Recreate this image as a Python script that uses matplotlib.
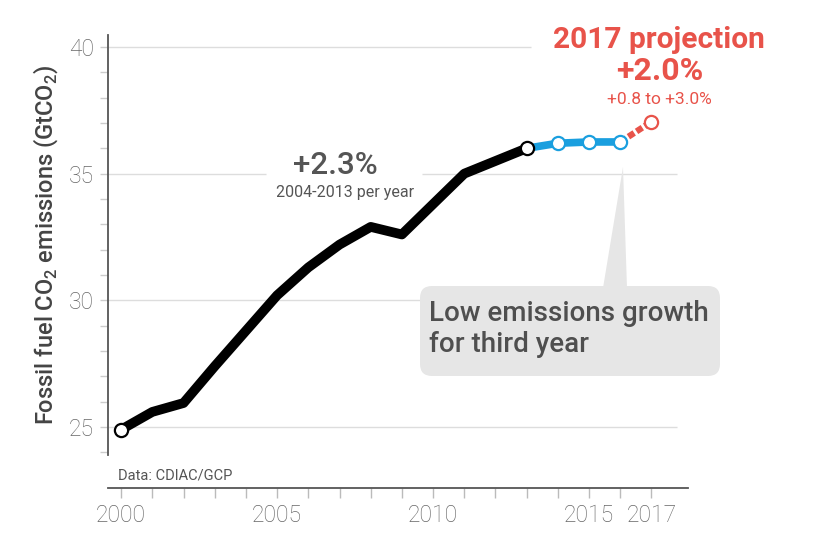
import matplotlib
matplotlib.use("Agg")
import matplotlib.pyplot as plt
from matplotlib.patches import FancyBboxPatch, Polygon
from matplotlib.transforms import IdentityTransform

# data (GtCO2)
years_hist = [2000, 2001, 2002, 2003, 2004, 2005, 2006, 2007, 2008, 2009, 2010, 2011, 2012, 2013]
emis_hist = [24.9, 25.6, 25.95, 27.4, 28.8, 30.2, 31.3, 32.2, 32.9, 32.6, 33.8, 35.0, 35.5, 36.0]
years_flat = [2013, 2014, 2015, 2016]
emis_flat = [36.0, 36.2, 36.25, 36.25]
years_proj = [2016, 2017]
emis_proj = [36.25, 37.05]

x_ticks = [2000, 2005, 2010, 2015, 2017]
y_ticks = [25, 30, 35, 40]

W, H = 826, 542
BLACK = "#000000"
BLUE = "#1a9fdf"
RED = "#e8534a"
GREY_TXT = "#555555"
TICK_TXT = "#666666"

plt.rcParams["font.family"] = ["Roboto", "DejaVu Sans"]
plt.rcParams["mathtext.fontset"] = "custom"
plt.rcParams["mathtext.rm"] = "Roboto:medium"

fig = plt.figure(figsize=(W / 100, H / 100), dpi=100)
ax = fig.add_axes([108 / W, 1 - 455 / H, (688 - 108) / W, (455 - 35) / H])
ax.set_xlim(1999.58, 2018.17)
ax.set_ylim(23.9, 40.47)


def px(x, y):
    # figure pixel -> figure fraction
    return x / W, 1 - y / H


# gridlines (broken where text sits)
grid_kw = dict(color="#dddddd", lw=1, zorder=0)
ax.hlines(40, 1999.58, 2013.15, **grid_kw)
ax.hlines(35, 1999.58, 2004.66, **grid_kw)
ax.hlines(35, 2009.65, 2017.83, **grid_kw)
ax.hlines([30, 25], 1999.58, 2017.83, **grid_kw)

# spines
for s in ["top", "right"]:
    ax.spines[s].set_visible(False)
ax.spines["left"].set_color("#555555")
ax.spines["left"].set_linewidth(1.3)
ax.spines["bottom"].set_color("#555555")
ax.spines["bottom"].set_linewidth(1.3)
ax.spines["bottom"].set_position(("outward", 24))

ax.set_yticks(y_ticks)
ax.set_yticks(range(24, 41), minor=True)
ax.set_xticks(x_ticks)
ax.set_xticks(range(2000, 2018), minor=True)
ax.tick_params(axis="y", which="both", length=6, width=1, color="#cccccc",
               labelsize=16.5, labelcolor=TICK_TXT, pad=4)
ax.tick_params(axis="x", which="both", length=7, width=1, color="#bbbbbb",
               labelsize=16.5, labelcolor=TICK_TXT, pad=4)
for lab in ax.get_xticklabels() + ax.get_yticklabels():
    lab.set_fontweight("light")

ax.set_ylabel(r"Fossil fuel CO$_\mathregular{2}$ emissions (GtCO$_\mathregular{2}$)",
              fontsize=17, color="#444444", fontweight="medium")
ax.yaxis.set_label_coords(-0.083, 0.5)

# annotation box with pointer
box = FancyBboxPatch((420, H - 376), 300, 90, boxstyle="round,pad=0,rounding_size=12",
                     transform=IdentityTransform(), facecolor="#e6e6e6", edgecolor="none",
                     zorder=1)
fig.add_artist(box)
wedge = Polygon([(603, H - 288), (627, H - 288), (623, H - 167)], closed=True,
                transform=IdentityTransform(), facecolor="#e6e6e6", edgecolor="none", zorder=1)
fig.add_artist(wedge)
fig.text(*px(429, 329), "Low emissions growth\nfor third year", fontsize=20,
         color="#4f4f4f", fontweight="medium", ha="left", va="center", linespacing=1.2,
         zorder=2)

# lines
ax.plot(years_hist, emis_hist, color=BLACK, lw=7, solid_capstyle="round",
        solid_joinstyle="round", zorder=3)
ax.plot(years_flat, emis_flat, color=BLUE, lw=5.5, solid_joinstyle="round", zorder=3)
ax.plot(years_proj, emis_proj, color=RED, lw=4.5, dashes=(1.1, 0.45), zorder=2)

ms = 9.5
ax.plot([years_hist[0], years_hist[-1]], [emis_hist[0], emis_hist[-1]], "o", ms=ms,
        mfc="white", mec=BLACK, mew=1.6, zorder=4)
ax.plot(years_flat[1:], emis_flat[1:], "o", ms=ms, mfc="white", mec=BLUE, mew=1.6, zorder=4)
ax.plot(years_proj[-1:], emis_proj[-1:], "o", ms=ms, mfc="white", mec=RED, mew=1.6, zorder=4)

# text annotations
fig.text(*px(335, 165), "+2.3%", fontsize=22.5, color=GREY_TXT, fontweight="medium",
         ha="center", va="center")
fig.text(*px(345, 192), "2004-2013 per year", fontsize=11.5, color=GREY_TXT,
         ha="center", va="center")
fig.text(*px(659, 40), "2017 projection", fontsize=21.5, color=RED, fontweight="bold",
         ha="center", va="center")
fig.text(*px(660, 71), "+2.0%", fontsize=23, color=RED, fontweight="bold",
         ha="center", va="center")
fig.text(*px(659, 99), "+0.8 to +3.0%", fontsize=12.5, color=RED, ha="center", va="center")
fig.text(*px(118, 475), "Data: CDIAC/GCP", fontsize=10.5, color="#555555",
         ha="left", va="center")

fig.savefig("out.png", dpi=100, facecolor="white")
